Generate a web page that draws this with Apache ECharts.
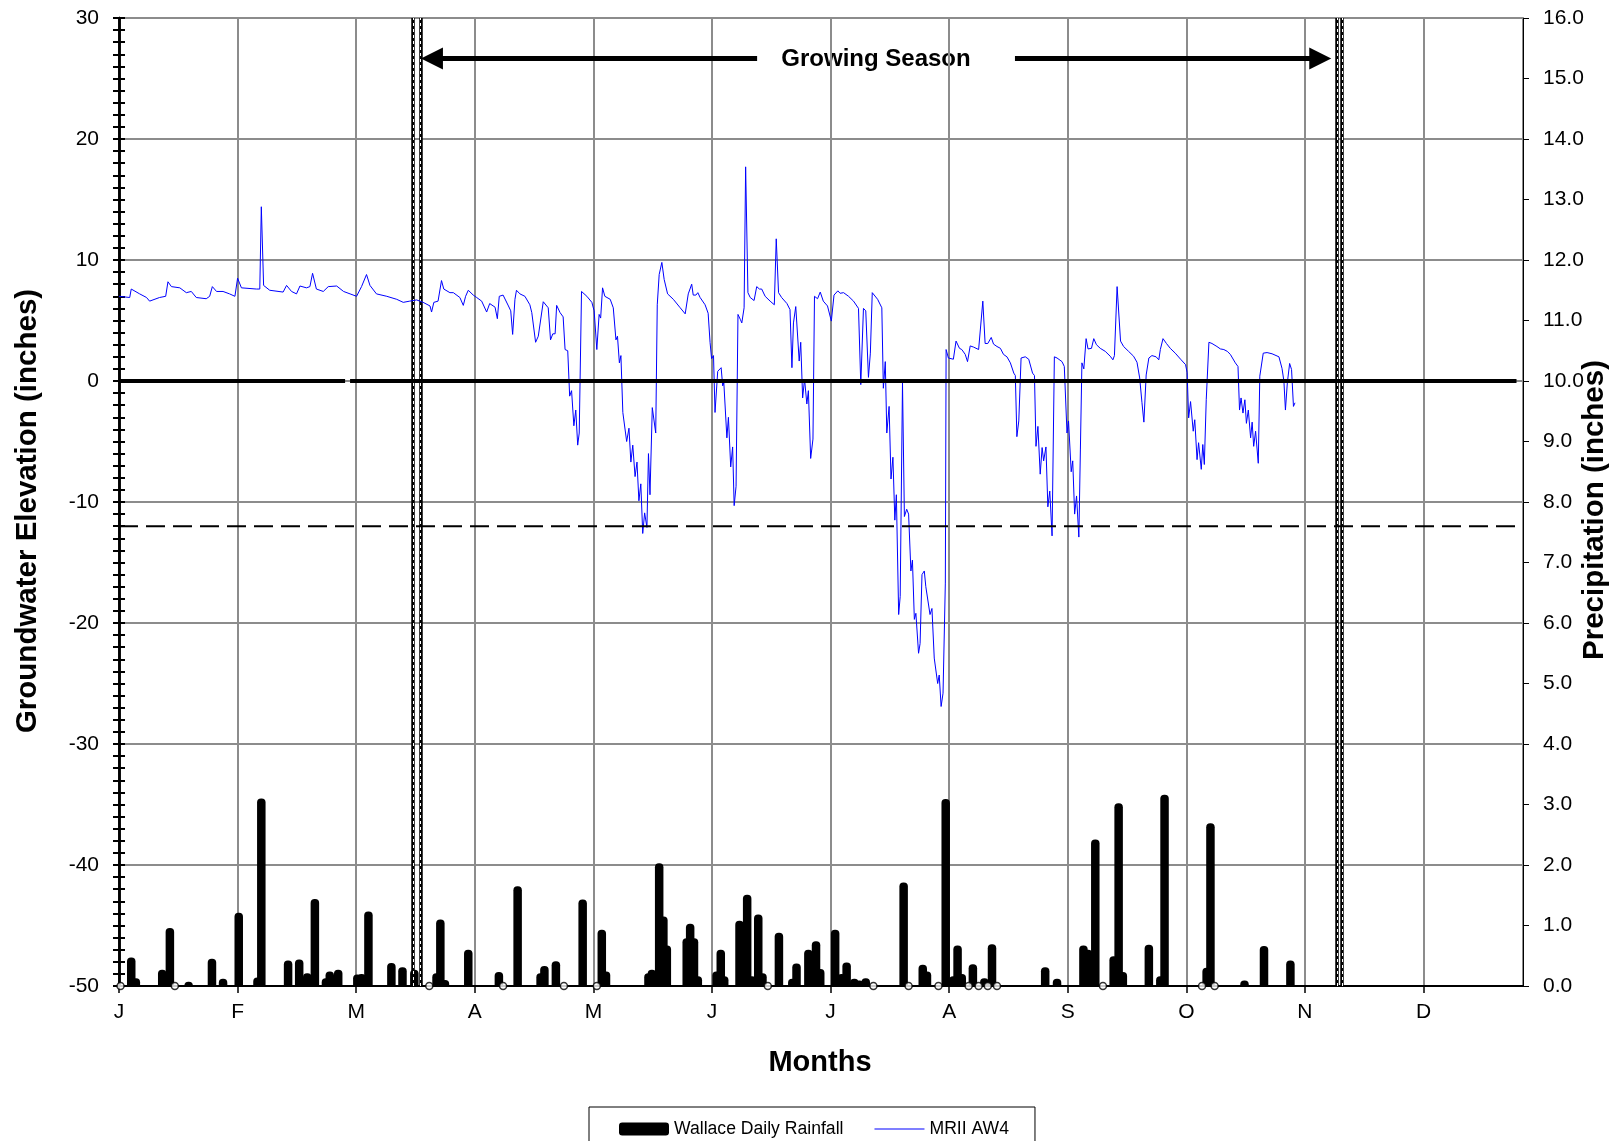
<!DOCTYPE html>
<html><head><meta charset="utf-8">
<script src="https://cdn.jsdelivr.net/npm/echarts@6/dist/echarts.min.js"></script>
<style>html,body{margin:0;padding:0;background:#fff}#c{width:1615px;height:1141px}</style>
</head><body><div id="c"></div>
<script>
// ---------- DATA ----------
const MONTH_LABELS = ['J','F','M','A','M','J','J','A','S','O','N','D'];
const DAYS_PER_TICK = 31;
const X_MAX = 367;
const LEFT_MIN = -50, LEFT_MAX = 30, LEFT_STEP = 10;
const RIGHT_MIN = 0, RIGHT_MAX = 16, RIGHT_STEP = 1;

// groundwater elevation (inches), [day of year, value]
const GW_POINTS = [
[0,7.0],[2.8,6.9],[3.2,7.6],[5.4,7.2],[7.2,6.9],[8.0,6.6],[10.6,6.9],[12.2,7.0],[12.8,8.2],[13.7,7.8],[15.9,7.7],[17.6,7.3],[18.9,7.4],[20.2,6.9],[22.8,6.8],[23.7,7.0],[24.4,7.8],[25.5,7.4],[27.2,7.4],[28.9,7.2],[30.3,7.0],[31.0,8.5],[32.0,7.7],[35.9,7.6],[36.8,7.6],[37.2,14.4],[37.8,7.9],[39.4,7.5],[42.9,7.35],[43.8,7.9],[45.1,7.4],[46.4,7.2],[47.3,7.85],[49.0,7.7],[49.9,7.8],[50.6,8.9],[51.6,7.6],[53.4,7.4],[54.7,7.8],[56.9,7.85],[58.7,7.4],[60.4,7.2],[62.1,7.0],[63.4,7.8],[64.7,8.8],[65.6,7.9],[67.3,7.2],[70.0,7.0],[72.6,6.75],[74.3,6.5],[76.0,6.6],[77.8,6.7],[79.5,6.5],[81.3,6.2],[81.7,5.7],[82.3,6.5],
[83.4,6.6],[84.3,8.3],[84.9,7.6],[86.5,7.3],[87.4,7.3],[89.1,6.9],[90.0,6.25],[90.6,7.0],[91.3,7.5],[92.6,7.1],[93.5,6.9],[93.9,7.0],[94.8,6.6],[96.1,5.7],[96.9,6.4],[98.3,6.1],[98.9,5.15],[99.4,7.0],[100.4,7.1],[101.8,6.2],[102.4,5.8],[102.9,3.85],[103.5,6.75],[103.9,7.5],[104.8,7.2],[106.1,7.0],[107.4,6.3],[107.9,5.65],[108.3,5.65],[108.9,3.2],[109.6,3.7],[110.9,6.55],[112.2,6.05],[112.8,3.4],[113.4,3.9],[114.0,3.9],[114.4,6.25],[115.3,5.65],[116.1,5.3],[116.6,2.6],[117.3,2.5],[117.8,-1.25],[118.3,-0.8],[118.9,-3.7],[119.4,-2.4],[119.9,-5.3],[120.3,-4.3],[120.9,7.4],[122.3,7.0],[123.6,6.5],[124.2,5.8],[124.9,2.6],[125.5,5.5],[125.9,5.2],[126.4,7.7],[127.0,7.0],[128.4,6.75],[129.2,6.05],[129.9,3.4],[130.3,3.7],[130.8,1.5],[131.2,2.1],[131.7,-2.6],[132.1,-2.5],[132.7,-5.0],[133.3,-3.9],[133.8,-6.7],[134.3,-5.3],[134.9,-7.9],[135.4,-6.7],[135.9,-9.9],[136.4,-8.5],[136.9,-12.6],[137.4,-10.9],[138.0,-12.1],[138.4,-6.0],[138.8,-9.4],[139.4,-2.2],[140.3,-4.3],[140.7,6.3],[141.2,8.8],[141.9,9.8],[142.5,8.4],[143.4,7.2],[144.9,6.75],[146.7,6.05],[148.0,5.55],[148.4,5.6],[148.8,7.2],[149.7,8.0],[150.1,7.1],[150.8,7.1],[151.3,7.3],[151.9,6.9],[153.2,6.3],[154.0,5.6],[154.5,3.2],[154.9,1.85],[155.4,2.1],[155.8,-2.6],[156.5,0.8],[157.4,1.1],[157.8,-0.4],[158.1,-0.15],[158.9,-4.7],[159.3,-3.0],[159.9,-7.1],[160.4,-5.45],[160.8,-10.3],[161.3,-8.7],[161.8,5.5],[162.4,5.1],[162.8,4.8],[163.4,6.05],[163.8,17.7],[164.4,7.3],[165.0,6.9],
[166.0,6.65],[166.7,7.8],[167.4,7.6],[168.0,7.6],[168.9,7.0],[170.2,6.6],[171.3,6.3],[171.8,11.75],[172.4,7.3],[173.2,6.9],[174.6,6.4],[175.4,5.9],[175.9,1.1],[176.3,4.8],[176.9,6.15],[177.3,6.05],[177.8,1.65],[178.2,3.2],[178.7,-1.4],[179.2,0.15],[179.8,-1.9],[180.2,-0.8],[180.8,-6.4],[181.4,-4.8],[181.8,7.0],[182.6,6.8],[183.3,7.35],[184.1,6.6],[185.2,6.2],[186.2,4.95],[186.9,7.1],[187.4,7.0],[187.9,7.45],[188.5,7.25],[189.4,7.3],[190.7,7.0],[192.0,6.6],[193.3,6.0],[193.9,-0.3],[194.6,6.0],[195.2,5.8],[195.9,0.3],[196.4,2.3],[196.9,7.3],[198.3,6.75],[199.4,6.05],[199.8,-0.6],[200.3,1.6],[200.7,-4.3],[201.3,-2.1],[201.8,-8.1],[202.3,-6.3],[202.8,-11.5],[203.2,-9.4],[203.8,-19.3],[204.2,-17.8],[204.8,-0.15],[205.3,-11.2],[205.9,-10.6],[206.4,-11.0],[207.0,-15.7],[207.4,-14.8],[207.9,-19.7],[208.3,-19.2],[209.0,-22.5],[209.4,-21.7],[209.9,-16.0],[210.5,-15.7],[210.9,-17.0],[211.3,-16.9],[212.0,-19.3],[212.5,-18.8],[213.1,-22.9],[213.6,-22.9],[214.0,-25.0],[214.4,-24.3],[214.9,-26.9],[215.4,-25.8],[216.0,-16.7],[216.2,2.6],[216.8,1.9],[218.1,1.8],[218.8,3.3],[219.7,2.7],[220.3,2.6],[221.2,2.2],[221.8,1.6],[222.5,2.9],[223.4,2.8],[224.7,2.6],[225.1,2.45],[225.8,6.6],[226.4,3.1],[227.1,3.1],[227.6,3.0],[228.0,3.6],[228.6,3.05],[229.5,2.85],[230.4,2.7],[231.2,2.2],[232.1,2.0],[233.0,1.5],[233.9,0.65],[234.3,0.45],[234.7,-4.6],[235.2,-3.3],[235.8,1.9],[236.9,2.0],[237.8,1.8],[238.2,1.7],[238.8,0.65],[239.3,0.45],[239.7,-5.4],[240.2,-3.75],[240.8,-7.7],[241.3,-5.5],[241.7,-6.6],[242.3,-5.45],[242.8,-10.4],[243.3,-9.1],[243.9,-12.8],[244.5,2.0],[245.2,1.9],[246.5,1.6],[247.1,1.2],[247.6,1.2],[247.8,-4.3],[248.2,-3.3],[248.9,-7.5],[249.3,-6.6],[249.8,-11.0],[250.3,-9.5],[250.9,-12.9],[251.3,-5.7],[251.7,1.5],[252.2,1.0],[252.8,3.5],[253.3,2.65],[253.7,2.6],[254.2,2.7],[254.8,3.5],[255.5,3.0],[256.5,2.7],[257.8,2.45],[259.1,2.05],[259.8,1.75],[260.2,2.1],[260.9,7.8],[261.8,3.3],[262.6,2.85],[263.9,2.45],[265.2,2.05],[266.1,1.55],[266.8,0.25],[267.2,0.25],[267.4,-1.8],[267.9,-3.4],[268.5,0.5],[269.2,1.9],[270.0,2.1],[271.1,2.0],[271.8,1.75],[272.2,2.6],[272.9,3.5],[273.8,3.1],[274.8,2.7],[276.1,2.3],[277.5,1.8],[278.8,1.35],[279.2,0.7],[279.6,-3.05],[280.1,-1.7],[280.8,-4.15],[281.2,-3.2],[281.8,-6.5],[282.2,-5.1],[282.9,-7.3],[283.3,-5.25],[283.7,-6.9],[284.2,-1.55],[284.9,3.2],[285.7,3.1],[287.0,2.85],[287.9,2.65],[288.8,2.6],[289.7,2.45],[290.5,2.2],[291.8,1.5],[292.5,1.2],[292.9,-2.4],[293.3,-1.4],[293.8,-2.65],[294.3,-1.55],[294.7,-3.5],[295.2,-2.4],[295.8,-4.7],[296.2,-3.4],[296.6,-5.4],[297.1,-4.15],[297.8,-6.8],[298.2,0.4],[299.1,2.3],[300.1,2.35],[301.4,2.25],[303.2,2.0],[304.0,1.05],[304.5,0.0],[304.9,-2.4],[305.4,-0.15],[306.0,1.45],[306.5,0.95],[307.0,-2.1],[307.4,-1.8]
];

// daily rainfall (inches)
const RAIN_DAYS = [3.2,4.4,11.3,13.3,18.2,24.3,27.2,31.3,36.2,37.2,44.2,47.1,49.2,51.2,54.1,55.1,57.3,62.3,63.4,65.2,71.2,74.1,77.2,83.0,84.0,85.2,91.3,99.3,104.2,110.2,111.2,114.2,121.2,126.2,127.3,138.4,139.3,141.2,142.3,143.2,148.4,149.3,150.3,151.3,156.2,157.3,158.2,162.2,164.2,165.4,167.1,168.2,172.5,176.0,177.1,180.2,182.2,183.3,187.2,188.9,190.2,192.2,193.5,195.2,205.1,210.1,211.2,216.1,218.1,219.2,220.3,223.2,226.2,228.2,242.1,245.2,252.1,253.3,255.2,260.0,261.3,262.4,269.2,272.2,273.3,284.3,285.3,294.2,299.3,306.2];
const RAIN_VALUES = [0.47,0.13,0.27,0.96,0.07,0.45,0.12,1.21,0.14,3.10,0.42,0.44,0.21,1.44,0.13,0.24,0.27,0.19,0.20,1.23,0.38,0.31,0.27,0.21,1.10,0.10,0.60,0.23,1.65,0.21,0.33,0.41,1.43,0.93,0.24,0.21,0.27,2.03,1.15,0.67,0.79,1.03,0.79,0.16,0.24,0.60,0.16,1.08,1.51,0.16,1.18,0.21,0.88,0.12,0.37,0.60,0.74,0.28,0.93,0.20,0.39,0.12,0.09,0.13,1.71,0.35,0.24,3.09,0.16,0.67,0.20,0.36,0.13,0.69,0.31,0.12,0.67,0.60,2.42,0.49,3.02,0.23,0.68,0.16,3.16,0.30,2.69,0.09,0.66,0.42];
// days with zero rainfall marked by hollow markers
const ZERO_RAIN_DAYS = [0.4,14.6,81.1,100.4,116.3,124.9,169.6,197.2,206.4,214.2,222.1,224.7,227.1,229.5,257.2,283.1,286.4];

// reference lines
const ZERO_LINE = [[0,0],[59.1,0],[59.7,null],[60.4,0],[365.3,0]];
const THRESHOLD = -12;
const THRESHOLD_LINE = [[0,THRESHOLD],[365.3,THRESHOLD]];
const SEASON_MARKERS = [76.85, 78.85, 318.4, 319.7];
const SEASON_ARROW_Y = 26.66;
const SEASON_LEFT_ARROW = [166.8, 81.8];   // from, to (arrow tip side)
const SEASON_RIGHT_ARROW = [234.2, 314.0];

// ---------- CHART ----------
const FONT = 'Liberation Sans, Arial, sans-serif';
const chart = echarts.init(document.getElementById('c'), null, {renderer:'canvas'});

const rainData = RAIN_DAYS.map((d,i)=>[d, RAIN_VALUES[i]]);
const zeroRain = ZERO_RAIN_DAYS.map(d=>[d,0]);

const option = {
  animation:false,
  backgroundColor:'#fff',
  grid:{left:119, right:92, top:18, bottom:155, show:true, borderColor:'#000', borderWidth:1, backgroundColor:'transparent'},
  xAxis:{
    type:'value', min:0, max:X_MAX, interval:DAYS_PER_TICK,
    axisLine:{show:true, onZero:false, lineStyle:{color:'#000', width:2}},
    axisTick:{show:true, length:7, lineStyle:{color:'#000', width:1.5}},
    axisLabel:{margin:16, fontSize:21, fontFamily:FONT, color:'#000',
      showMaxLabel:false,
      formatter:v=>{const i=Math.round(v/DAYS_PER_TICK); return MONTH_LABELS[i]||'';}},
    splitLine:{show:true, lineStyle:{color:'#8c8c8c', width:2}}
  },
  yAxis:[
    {type:'value', position:'left', min:LEFT_MIN, max:LEFT_MAX, interval:LEFT_STEP,
      axisLine:{show:true, onZero:false, lineStyle:{color:'#000', width:2.5}},
      axisTick:{show:true, inside:false, length:6, lineStyle:{color:'#000', width:2}},
      minorTick:{show:true, splitNumber:10, length:6, lineStyle:{color:'#000', width:2}},
      axisLabel:{margin:20, fontSize:21, fontFamily:FONT, color:'#000'},
      splitLine:{show:true, lineStyle:{color:'#8c8c8c', width:2}}},
    {type:'value', position:'right', min:RIGHT_MIN, max:RIGHT_MAX, interval:RIGHT_STEP,
      axisLine:{show:true, onZero:false, lineStyle:{color:'#000', width:1}},
      axisTick:{show:true, length:6, lineStyle:{color:'#000', width:1}},
      axisLabel:{margin:20, fontSize:21, fontFamily:FONT, color:'#000', formatter:v=>v.toFixed(1)},
      splitLine:{show:false}},
    {type:'value', position:'left', min:LEFT_MIN, max:LEFT_MAX, interval:LEFT_STEP,
      axisLine:{show:true, onZero:false, lineStyle:{color:'#000', width:2.5}},
      axisTick:{show:true, inside:true, length:6, lineStyle:{color:'#000', width:2}},
      minorTick:{show:true, splitNumber:10, length:6, lineStyle:{color:'#000', width:2}},
      axisLabel:{show:false}, splitLine:{show:false}}
  ],
  legend:{
    left:589, top:1107, orient:'horizontal',
    padding:[13,26,30,30], itemGap:31, itemWidth:50, itemHeight:13,
    borderColor:'#000', borderWidth:1, backgroundColor:'#fff',
    textStyle:{fontSize:17.6, fontFamily:FONT, color:'#000'},
    data:[
      {name:'Wallace Daily Rainfall', icon:'roundRect'},
      {name:'MRII AW4', icon:'path://M0,0L0.01,0M0,5.9L50,5.9L50,7.1L0,7.1ZM0,13L0.01,13', itemStyle:{color:'#0000ff', borderWidth:0}}
    ]
  },
  series:[
    {name:'Wallace Daily Rainfall', type:'bar', xAxisIndex:0, yAxisIndex:1, data:rainData,
      barWidth:8.5, itemStyle:{color:'#000', borderRadius:[4,4,0,0]}, z:3},
    {name:'zeroRain', type:'scatter', xAxisIndex:0, yAxisIndex:1, data:zeroRain,
      symbol:'circle', symbolSize:7, clip:false,
      itemStyle:{color:'#fff', borderColor:'#000', borderWidth:1.5}, z:4},
    {name:'MRII AW4', type:'line', xAxisIndex:0, yAxisIndex:0, data:GW_POINTS,
      symbol:'none', lineStyle:{color:'#0000ff', width:1}, itemStyle:{color:'#0000ff'}, z:5},
    {name:'zeroLine', type:'line', yAxisIndex:0, data:ZERO_LINE, symbol:'none', connectNulls:false,
      lineStyle:{color:'#000', width:4}, z:6},
    {name:'threshold', type:'line', yAxisIndex:0, data:THRESHOLD_LINE, symbol:'none',
      lineStyle:{color:'#000', width:2, type:[19,8]}, z:6},
    {name:'markersBlack', type:'line', yAxisIndex:0, data:[], z:7,
      markLine:{silent:true, symbol:'none', label:{show:false}, animation:false,
        lineStyle:{color:'#000', width:3.5, type:'solid'},
        data:SEASON_MARKERS.map(d=>({xAxis:d}))}},
    {name:'markersWhite', type:'line', yAxisIndex:0, data:[], z:8,
      markLine:{silent:true, symbol:'none', label:{show:false}, animation:false,
        lineStyle:{color:'#fff', width:1, type:[3,3]},
        data:SEASON_MARKERS.map(d=>({xAxis:d}))}},
    {name:'season', type:'line', yAxisIndex:0, data:[], z:9,
      markLine:{silent:true, label:{show:false}, animation:false, symbolSize:22,
        lineStyle:{color:'#000', width:5, type:'solid'},
        data:[
          [{coord:[SEASON_LEFT_ARROW[0], SEASON_ARROW_Y], symbol:'none'},{coord:[SEASON_LEFT_ARROW[1], SEASON_ARROW_Y], symbol:'triangle'}],
          [{coord:[SEASON_RIGHT_ARROW[0], SEASON_ARROW_Y], symbol:'none'},{coord:[SEASON_RIGHT_ARROW[1], SEASON_ARROW_Y], symbol:'triangle'}]
        ]}}
  ],
  graphic:[
    {type:'text', x:28, y:511, rotation:Math.PI/2,
      style:{text:'Groundwater Elevation (inches)', font:'bold 29.5px '+FONT, fill:'#000', align:'center', verticalAlign:'middle'}},
    {type:'text', x:1595, y:510, rotation:Math.PI/2,
      style:{text:'Precipitation (inches)', font:'bold 29.5px '+FONT, fill:'#000', align:'center', verticalAlign:'middle'}},
    {type:'text', x:820, y:1063,
      style:{text:'Months', font:'bold 29px '+FONT, fill:'#000', align:'center', verticalAlign:'middle'}},
    {type:'text', x:876, y:59,
      style:{text:'Growing Season', font:'bold 24px '+FONT, fill:'#000', align:'center', verticalAlign:'middle'}}
  ]
};
chart.setOption(option);
</script>
</body></html>
